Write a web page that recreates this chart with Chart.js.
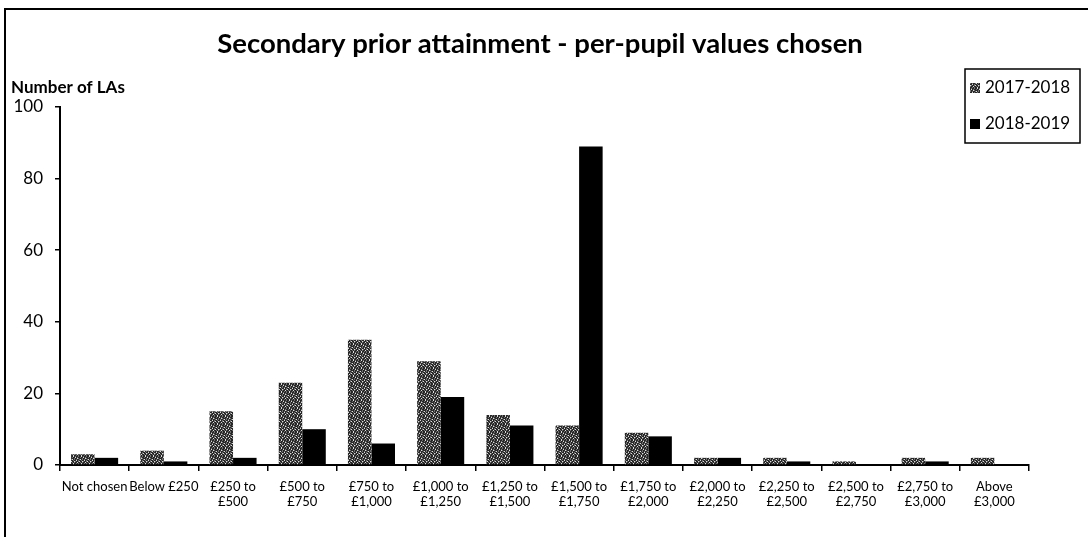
<!DOCTYPE html>
<html>
<head>
<meta charset="utf-8">
<script src="https://cdn.jsdelivr.net/npm/chart.js@4"></script>
<style>
  html, body { margin: 0; padding: 0; background: #fff; }
  #wrap { width: 1088px; height: 537px; position: relative; }
</style>
</head>
<body>
<div id="wrap"><canvas id="chart" width="1088" height="537"></canvas></div>
<script>
/* Data */
const chartTitle = "Secondary prior attainment - per-pupil values chosen";
const categories = [
    "Not chosen", "Below £250", ["£250 to", "£500"], ["£500 to", "£750"],
    ["£750 to", "£1,000"], ["£1,000 to", "£1,250"], ["£1,250 to", "£1,500"],
    ["£1,500 to", "£1,750"], ["£1,750 to", "£2,000"], ["£2,000 to", "£2,250"],
    ["£2,250 to", "£2,500"], ["£2,500 to", "£2,750"], ["£2,750 to", "£3,000"],
    ["Above", "£3,000"]
];
const series2017 = [3, 4, 15, 23, 35, 29, 14, 11, 9, 2, 2, 1, 2, 2];
const series2018 = [2, 1, 2, 10, 6, 19, 11, 89, 8, 2, 1, 0, 1, 0];
const seriesNames = ["2017-2018", "2018-2019"];
const yTicks = [0, 20, 40, 60, 80, 100];

/* Speckled grey fill for the older series */
function makeSpeckle() {
    const rows = [
        "#.#+##+#",
        "+##.#+##",
        "##+##.+#",
        ".#+#+##+",
        "#+##.#+#",
        "##.+##+.",
        "+#+##.##",
        "#.##+#+#"
    ];
    const c = document.createElement("canvas");
    c.width = 8; c.height = 8;
    const cx = c.getContext("2d");
    rows.forEach((r, y) => {
        [...r].forEach((ch, x) => {
            cx.fillStyle = ch === "#" ? "#262626" : ch === "+" ? "#707070" : "#dcdcdc";
            cx.fillRect(x, y, 1, 1);
        });
    });
    return cx.createPattern(c, "repeat");
}
const speckle = makeSpeckle();

/* Frame, title, axis caption and legend */
const decor = {
    id: "decor",
    afterDraw(chart) {
        const ctx = chart.ctx;
        ctx.save();
        // page frame (left and top)
        ctx.strokeStyle = "#000";
        ctx.lineWidth = 2;
        ctx.beginPath();
        ctx.moveTo(5, 537);
        ctx.lineTo(5, 9);
        ctx.lineTo(1088, 9);
        ctx.stroke();

        // title, centred on the page
        ctx.fillStyle = "#000";
        ctx.font = "bold 27.5px Lato";
        ctx.textAlign = "center";
        ctx.textBaseline = "alphabetic";
        ctx.fillText(chartTitle, 540, 53);

        // y caption
        ctx.font = "bold 17px Lato";
        ctx.textAlign = "left";
        ctx.fillText("Number of LAs", 11, 93);

        // legend box
        ctx.lineWidth = 1.5;
        ctx.fillStyle = "#fff";
        ctx.fillRect(965, 69, 115, 74);
        ctx.strokeRect(965, 69, 115, 74);
        const fills = [speckle, "#000"];
        ctx.textBaseline = "middle";
        [88, 124].forEach((y, i) => {
            ctx.fillStyle = fills[i];
            ctx.fillRect(970, y - 5, 10, 10);
            ctx.fillStyle = "#000";
            ctx.font = "17px Lato";
            ctx.fillText(seriesNames[i], 985, y);
        });
        ctx.restore();
    }
};

new Chart(document.getElementById("chart"), {
    type: "bar",
    data: {
        labels: categories,
        datasets: [
            { label: seriesNames[0], data: series2017, backgroundColor: speckle },
            { label: seriesNames[1], data: series2018, backgroundColor: "#000" }
        ]
    },
    options: {
        responsive: false,
        animation: false,
        layout: { padding: { left: 0, right: 59, top: 107, bottom: 0 } },
        datasets: { bar: { categoryPercentage: 0.68, barPercentage: 1.0 } },
        plugins: {
            legend: { display: false },
            tooltip: { enabled: false },
            title: { display: false }
        },
        scales: {
            x: {
                grid: { display: true, drawOnChartArea: false, offset: true, color: "#000", tickLength: 6, lineWidth: 1.5 },
                border: { color: "#000", width: 2 },
                ticks: {
                    color: "#000", padding: 8, maxRotation: 0, autoSkip: false,
                    font: { family: "Lato", size: 13, lineHeight: 1.15 }
                },
                afterFit(scale) { scale.height = 72; }
            },
            y: {
                min: 0, max: 100,
                grid: { display: true, drawOnChartArea: false, color: "#000", tickLength: 5, lineWidth: 1.5 },
                border: { color: "#000", width: 2 },
                afterBuildTicks(scale) { scale.ticks = yTicks.map(v => ({ value: v })); },
                ticks: { color: "#000", padding: 12, font: { family: "Lato", size: 17 } },
                afterFit(scale) { scale.width = 60; }
            }
        }
    },
    plugins: [decor]
});
</script>
</body>
</html>
